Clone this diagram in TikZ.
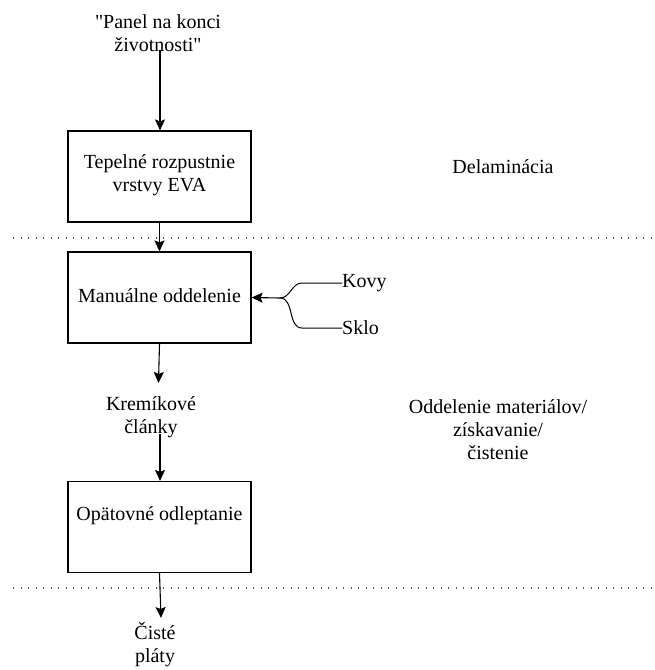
\documentclass[tikz,border=0pt]{standalone}
\usepackage{fontspec}
\setmainfont{Liberation Serif}
\usetikzlibrary{arrows.meta}
\begin{document}
\begin{tikzpicture}[x=1pt,y=-1pt,
  txt/.style={font=\fontsize{20}{23}\selectfont, align=center, inner sep=0pt},
  box/.style={draw, line width=1.2pt, minimum width=183pt, minimum height=91pt, inner sep=0pt},
  arr/.style={line width=1.1pt, -{Stealth[length=11pt,width=10pt,inset=2pt]}},
  link/.style={line width=1pt},
  sep/.style={black!65, line width=1.3pt, dash pattern=on 1.2pt off 6.3pt}]
\useasboundingbox (0,0) rectangle (655,670);
% nodes
\node[txt] (top) at (158,33) {\textquotedbl Panel na konci\\životnosti\textquotedbl};
\node[box] (b1) at (159.5,176.5) {};
\node[txt] (t1) at (159.5,175) {Tepelné rozpustnie\\vrstvy EVA};
\node[box] (b2) at (159.5,297.5) {};
\node[txt] (t2) at (159.5,296) {Manuálne oddelenie};
\node[txt, anchor=west] (kovy) at (342,283) {Kovy};
\node[txt, anchor=west] (sklo) at (342,328) {Sklo};
\node[txt] (kc) at (151,417) {Kremíkové\\články};
\node[box] (b3) at (159.5,527) {};
\node[txt] (t3) at (159.5,516) {Opätovné odleptanie};
\node[txt] (cp) at (155,645) {Čisté\\pláty};
\node[txt] (del) at (503,167) {Delaminácia};
\node[txt] (odd) at (498,430) {Oddelenie materiálov/\\získavanie/\\čistenie};
% separators
\coordinate (s1a) at (13,238); \coordinate (s1b) at (655,238);
\coordinate (s2a) at (13,588); \coordinate (s2b) at (655,588);
\draw[sep] (s1a) -- (s1b);
\draw[sep] (s2a) -- (s2b);
% connectors
\coordinate (p0) at (160,50);
\draw[arr] (p0) -- (b1.north -| p0);
\draw[arr] (b1.south) -- (b2.north);
\coordinate (p1) at (158.5,383);
\draw[arr] (b2.south) -- (p1);
\coordinate (p2) at (160,434);
\draw[arr] (p2) -- (b3.north -| p2);
\coordinate (p3) at (161,618);
\draw[arr] (b3.south) -- (p3);
\coordinate (j) at (280,298);
\draw[link] (kovy.west) -- ++(-40,0) to[out=180,in=0] (j);
\draw[link] (sklo.west) -- ++(-40,0) to[out=180,in=0] (j);
\draw[arr] (j) -- (b2.east);
\end{tikzpicture}
\end{document}
